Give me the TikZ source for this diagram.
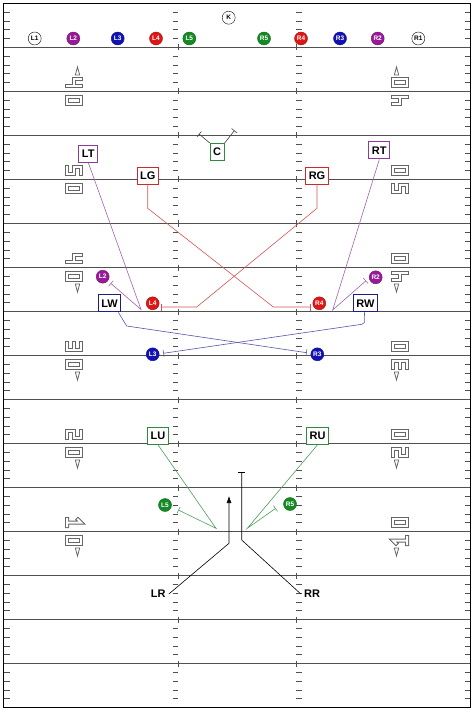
\documentclass[tikz,border=0pt]{standalone}
\usepackage{fontspec}
\setmainfont{Liberation Sans}
\setsansfont{Liberation Sans}
\usepackage{tikz}
\usetikzlibrary{
  positioning,
  calc,
  arrows.meta
}
\definecolor{kickPurple}{HTML}{991A99}
\definecolor{kickBlue}{HTML}{1212B4}
\definecolor{kickRed}{HTML}{DD1616}
\definecolor{kickGreen}{HTML}{148A24}
\definecolor{boxPurple}{HTML}{8E3A9E}
\definecolor{boxRed}{HTML}{C92A2A}
\definecolor{boxBlue}{HTML}{1C1C8C}
\definecolor{boxGreen}{HTML}{2E8A3E}
\definecolor{fieldGray}{HTML}{505050}
\definecolor{numGray}{HTML}{666666}

\tikzstyle{yardline}=[fieldGray, line width=1pt]
\tikzstyle{tick}=[fieldGray, line width=0.8pt]
\tikzstyle{numline}=[numGray, line width=1pt, double=white, double distance=2pt, line cap=rect, line join=miter]
\tikzstyle{numarrow}=[numGray, line width=0.8pt, fill=white]
\tikzstyle{kickwhite}=[circle, draw=black, fill=white, text=black, inner sep=0pt, minimum size=13pt, font=\bfseries\fontsize{6.5}{6.5}\selectfont]
\tikzstyle{retlabel}=[inner sep=3pt, font=\bfseries\fontsize{11}{11}\selectfont]
\tikzstyle{block}=[-{Bar[width=7pt]}]
\tikzset{
  kicker/.style={circle, draw=#1!75!black, fill=#1, text=white, inner sep=0pt, minimum size=13pt, font=\bfseries\fontsize{6.5}{6.5}\selectfont},
  blocker/.style={draw=#1, fill=white, line width=1pt, inner xsep=3pt, inner ysep=0pt, minimum height=17pt, font=\bfseries\fontsize{11}{11}\selectfont},
  route/.style={#1, line width=0.6pt}
}

% 数字（縦向き）
\newcommand{\digZero}{(-3.5,-7) -- (3.5,-7) -- (3.5,7) -- (-3.5,7) -- cycle}
\newcommand{\digOne}{(-3.5,-7) -- (3.5,-7) (0,-7) -- (0,7) -- (-3,4)}
\newcommand{\digTwo}{(-3.5,7) -- (3.5,7) -- (3.5,0) -- (-3.5,0) -- (-3.5,-7) -- (3.5,-7)}
\newcommand{\digThree}{(-3.5,7) -- (3.5,7) -- (3.5,-7) -- (-3.5,-7) (-3.5,0) -- (3.5,0)}
\newcommand{\digFour}{(-3.5,7) -- (-3.5,0) -- (3.5,0) (3.5,7) -- (3.5,-7)}
\newcommand{\digFive}{(3.5,7) -- (-3.5,7) -- (-3.5,0) -- (3.5,0) -- (3.5,-7) -- (-3.5,-7)}

\newcommand{\yddigit}[4]{%
  \begin{scope}[shift={(#1,#2)}, x=1pt, y=1pt, rotate=#3]
    \draw[numline] #4;
  \end{scope}}
\newcommand{\yardnum}[3]{%
  \yddigit{74}{#1-9}{-90}{#2}\yddigit{74}{#1+9}{-90}{#3}%
  \yddigit{400}{#1+9}{90}{#2}\yddigit{400}{#1-9}{90}{#3}}
\newcommand{\yardarrow}[2]{%
  \draw[numarrow] (75.3,{#1+(#2)*16.5}) -- (79.7,{#1+(#2)*16.5}) -- (77.5,{#1+(#2)*24.5}) -- cycle;
  \draw[numarrow] (394.3,{#1+(#2)*16.5}) -- (398.7,{#1+(#2)*16.5}) -- (396.5,{#1+(#2)*24.5}) -- cycle;}

\begin{document}
\begin{tikzpicture}[x=1pt, y=-1pt]
  \useasboundingbox (0,0) rectangle (474,711);

  % ヤードライン
  \foreach \k in {1,...,15}
    \draw[yardline] (3.5,{3.5+44*\k}) -- (470.5,{3.5+44*\k});

  % 1ヤードごとの目盛り
  \foreach \k in {0,...,15}
    \foreach \j in {1,...,4} {
      \pgfmathsetmacro{\ty}{3.5+44*\k+8.8*\j}
      \draw[tick] (3.5,\ty) -- (9.5,\ty);
      \draw[tick] (464.5,\ty) -- (470.5,\ty);
      \draw[tick] (172.5,\ty) -- (178,\ty);
      \draw[tick] (296,\ty) -- (301.5,\ty);
    }
  \foreach \k in {1,...,15} {
    \draw[tick] (178,{3.5+44*\k-3}) -- (178,{3.5+44*\k+3});
    \draw[tick] (296,{3.5+44*\k-3}) -- (296,{3.5+44*\k+3});
  }

  % フィールドの数字
  \foreach \yl/\da/\db in {91.5/\digFour/\digZero, 179.5/\digFive/\digZero,
      267.5/\digFour/\digZero, 355.5/\digThree/\digZero,
      443.5/\digTwo/\digZero, 531.5/\digOne/\digZero} {
    \yardnum{\yl}{\da}{\db}
  }
  \yardarrow{91.5}{-1}
  \foreach \yl in {267.5, 355.5, 443.5, 531.5} {
    \yardarrow{\yl}{1}
  }

  % 外枠
  \draw[line width=1.4pt] (3.5,3.5) rectangle (470.5,707.5);

  % キックオフ隊形
  \node[kickwhite] (K) at (228.7,17.7) {K};
  \node[kickwhite] (L1s) at (34.7,38.5) {L1};
  \node[kicker=kickPurple] (L2s) at (73.3,38.5) {L2};
  \node[kicker=kickBlue] (L3s) at (117.7,38.5) {L3};
  \node[kicker=kickRed] (L4s) at (156,38.5) {L4};
  \node[kicker=kickGreen] (L5s) at (189.3,38.5) {L5};
  \node[kicker=kickGreen] (R5s) at (264,38.5) {R5};
  \node[kicker=kickRed] (R4s) at (301,38.5) {R4};
  \node[kicker=kickBlue] (R3s) at (340,38.5) {R3};
  \node[kicker=kickPurple] (R2s) at (377.7,38.5) {R2};
  \node[kickwhite] (R1s) at (418.3,38.5) {R1};

  % 走り込んだカバー
  \node[kicker=kickPurple] (L2) at (102.7,276.7) {L2};
  \node[kicker=kickPurple] (R2) at (375.7,277.3) {R2};
  \node[kicker=kickRed] (L4) at (152.7,303.3) {L4};
  \node[kicker=kickRed] (R4) at (319.3,303.3) {R4};
  \node[kicker=kickBlue] (L3) at (152.7,354.3) {L3};
  \node[kicker=kickBlue] (R3) at (317.3,354.3) {R3};
  \node[kicker=kickGreen] (L5) at (165,505) {L5};
  \node[kicker=kickGreen] (R5) at (290,504) {R5};

  % リターン隊
  \node[blocker=boxPurple] (LT) at (88.3,153.7) {LT};
  \node[blocker=boxGreen] (C) at (217.2,152) {C};
  \node[blocker=boxPurple] (RT) at (379.3,150.5) {RT};
  \node[blocker=boxRed] (LG) at (147.7,175.7) {LG};
  \node[blocker=boxRed] (RG) at (317,175.7) {RG};
  \node[blocker=boxBlue, line width=1.3pt] (LW) at (109.5,303.3) {LW};
  \node[blocker=boxBlue, line width=1.3pt] (RW) at (365.5,303.3) {RW};
  \node[blocker=boxGreen] (LU) at (158,435.8) {LU};
  \node[blocker=boxGreen] (RU) at (317.5,435.8) {RU};
  \node[retlabel] (LR) at (158.3,594) {LR};
  \node[retlabel] (RR) at (312,594) {RR};

  % ブロックの終点と折れ点
  \coordinate (cl) at (199,134);
  \coordinate (cr) at (234.5,130.5);
  \coordinate (lt1) at (141,309.5);
  \coordinate (ltend) at (110.7,283.3);
  \coordinate (rt1) at (332.7,310);
  \coordinate (rtend) at (366,280.7);
  \coordinate (lg1) at (147.7,208.3);
  \coordinate (lg2) at (273.3,307);
  \coordinate (lgend) at (310.7,307);
  \coordinate (rg1) at (317,208.3);
  \coordinate (rg2) at (196.7,307);
  \coordinate (rgend) at (160.7,307);
  \coordinate (lw1) at (126.7,326);
  \coordinate (lwend) at (306.7,352.7);
  \coordinate (rw1) at (364.3,322.7);
  \coordinate (rw2) at (361.7,324.3);
  \coordinate (rwend) at (163.3,353.3);
  \coordinate (lu1) at (216,528.3);
  \coordinate (luend) at (178.3,510);
  \coordinate (ru1) at (247.3,528.3);
  \coordinate (ruend) at (275.7,508.3);
  \coordinate (lr1) at (229,543.3);
  \coordinate (lrend) at (229,496);
  \coordinate (rr1) at (241.7,540);
  \coordinate (rrend) at (241.7,471.7);

  % ブロックの経路
  \draw[route=black!75, block] (C.north west) -- (cl);
  \draw[route=black!75, block] (C.north east) -- (cr);
  \draw[route=boxPurple!80, block] (LT.south) -- (lt1) -- (ltend);
  \draw[route=boxPurple!80, block] (RT.south) -- (rt1) -- (rtend);
  \draw[route=boxRed!80, block] (LG.south) -- (lg1) -- (lg2) -- (lgend);
  \draw[route=boxRed!80, block] (RG.south) -- (rg1) -- (rg2) -- (rgend);
  \draw[route=boxBlue!75, block] ([xshift=-3pt]LW.south east) -- (lw1) -- (lwend);
  \draw[route=boxBlue!75, block] ([xshift=-1pt]RW.south) -- (rw1) -- (rw2) -- (rwend);
  \draw[route=boxGreen!85, block] (LU.south) -- (lu1) -- (luend);
  \draw[route=boxGreen!85, block] (RU.south) -- (ru1) -- (ruend);
  \draw[route=black, -{Latex[length=7pt, width=5pt]}] (LR.east) -- (lr1) -- (lrend);
  \draw[route=black, block] (RR.west) -- (rr1) -- (rrend);
\end{tikzpicture}
\end{document}
